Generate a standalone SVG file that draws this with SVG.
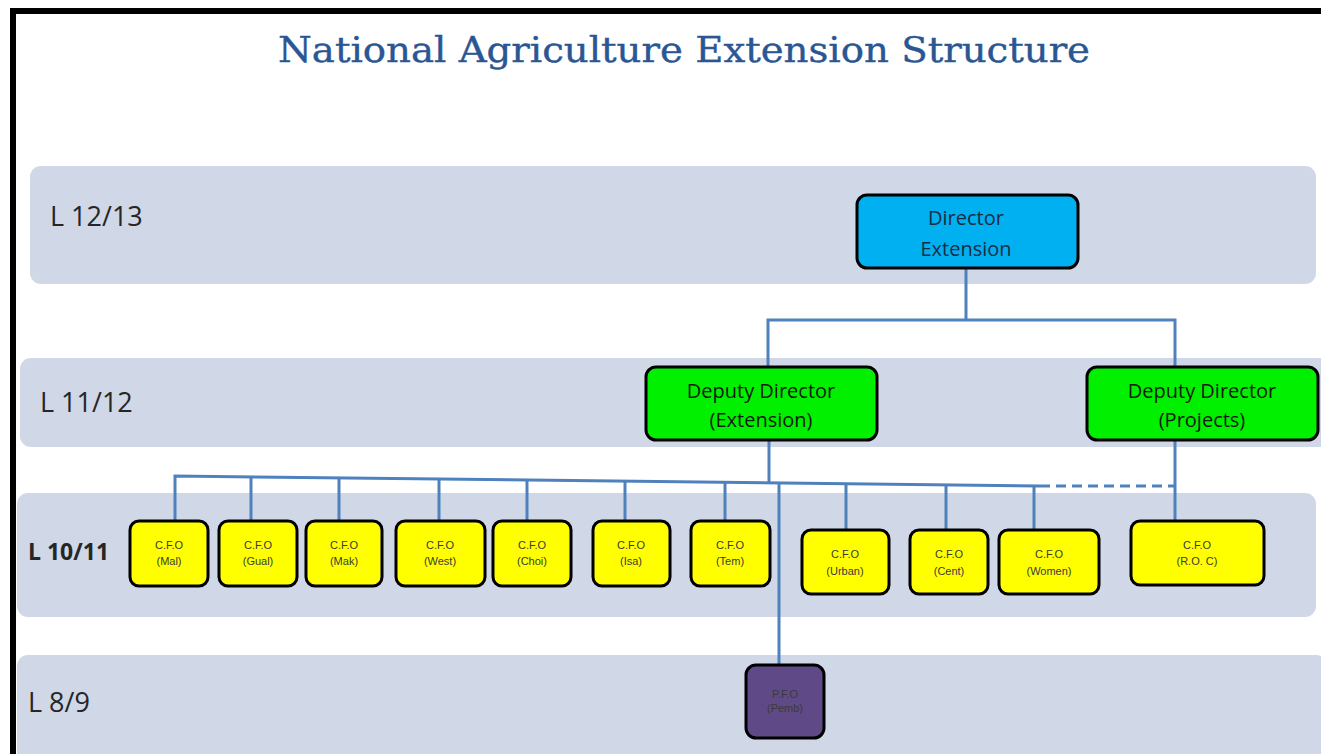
<svg xmlns="http://www.w3.org/2000/svg" width="1321" height="754" viewBox="0 0 1321 754">
  <style>
    .lane { fill: #d0d7e6; }
    .lvl { font-family: "Open Sans", "Liberation Sans", sans-serif; fill: #262626; }
    .box { stroke: #000; stroke-width: 3; }
    .dir { fill: #00b0f0; }
    .dep { fill: #00f000; }
    .cfo { fill: #ffff00; }
    .pfo { fill: #5f4a87; }
    .t-big { font-family: "Open Sans", "Liberation Sans", sans-serif; font-size: 20px; text-anchor: middle; }
    .t-small { font-family: "Liberation Sans", "Open Sans", sans-serif; font-size: 11px; text-anchor: middle; fill: #3a3a3a; }
    .link { fill: none; stroke: #4f81bd; stroke-width: 3; }
  </style>

  <!-- frame -->
  <rect x="0" y="0" width="1321" height="754" fill="#fff"/>
  <line x1="10" y1="11" x2="1321" y2="11" stroke="#000" stroke-width="6"/>
  <line x1="13" y1="8" x2="13" y2="754" stroke="#000" stroke-width="6"/>

  <text x="684" y="62" text-anchor="middle" font-family="DejaVu Serif, Liberation Serif, serif" font-size="36" fill="#2a5694" stroke="#2a5694" stroke-width="0.4" textLength="812" lengthAdjust="spacingAndGlyphs">National Agriculture Extension Structure</text>

  <!-- level bands -->
  <g id="levels">
    <rect class="lane" x="30" y="166" width="1286" height="118" rx="11"/>
    <rect class="lane" x="20" y="358" width="1310" height="89" rx="11"/>
    <rect class="lane" x="17" y="493" width="1299" height="124" rx="11"/>
    <rect class="lane" x="17" y="655" width="1310" height="110" rx="11"/>
    <text class="lvl" x="50" y="226" font-size="27">L 12/13</text>
    <text class="lvl" x="40" y="412" font-size="27">L 11/12</text>
    <text class="lvl" x="28" y="560" font-size="23" font-weight="bold">L 10/11</text>
    <text class="lvl" x="28" y="712" font-size="27">L 8/9</text>
  </g>

  <!-- connectors -->
  <g id="connectors">
    <path class="link" d="M966 268 V320" stroke-width="2"/>
    <path class="link" d="M768 367 V320 H1175 V367"/>
    <path class="link" d="M769 440 V482"/>
    <path class="link" d="M175 521 V476 L1040 486"/>
    <path class="link" d="M1040 486 H1175" stroke-dasharray="10 6"/>
    <path class="link" d="M1175 440 V521"/>
    <path class="link" d="M779 483 V665"/>
    <path class="link" d="M251 477 V521"/>
    <path class="link" d="M339 478 V521"/>
    <path class="link" d="M439 479 V521"/>
    <path class="link" d="M527 480 V521"/>
    <path class="link" d="M625 481 V521"/>
    <path class="link" d="M725 482 V521"/>
    <path class="link" d="M846 484 V530"/>
    <path class="link" d="M946 485 V530"/>
    <path class="link" d="M1034 486 V530"/>
  </g>

  <g id="director">
    <rect class="box dir" x="857" y="195" width="221" height="73" rx="10"/>
    <text class="t-big" x="966" y="225" font-size="23" fill="#1b2d44">Director</text>
    <text class="t-big" x="966" y="256" font-size="23" fill="#1b2d44">Extension</text>
  </g>

  <g id="dd-extension">
    <rect class="box dep" x="646" y="367" width="231" height="73" rx="10"/>
    <text class="t-big" x="761" y="398" fill="#0f1a0f">Deputy Director</text>
    <text class="t-big" x="761" y="427" fill="#0f1a0f">(Extension)</text>
  </g>

  <g id="dd-projects">
    <rect class="box dep" x="1087" y="367" width="231" height="73" rx="10"/>
    <text class="t-big" x="1202" y="398" fill="#0f1a0f">Deputy Director</text>
    <text class="t-big" x="1202" y="427" fill="#0f1a0f">(Projects)</text>
  </g>

  <g id="cfo-mal">
    <rect class="box cfo" x="130" y="521" width="78" height="65" rx="9"/>
    <text class="t-small" x="169" y="549">C.F.O</text>
    <text class="t-small" x="169" y="565">(Mal)</text>
  </g>
  <g id="cfo-gual">
    <rect class="box cfo" x="219" y="521" width="78" height="65" rx="9"/>
    <text class="t-small" x="258" y="549">C.F.O</text>
    <text class="t-small" x="258" y="565">(Gual)</text>
  </g>
  <g id="cfo-mak">
    <rect class="box cfo" x="306" y="521" width="76" height="65" rx="9"/>
    <text class="t-small" x="344" y="549">C.F.O</text>
    <text class="t-small" x="344" y="565">(Mak)</text>
  </g>
  <g id="cfo-west">
    <rect class="box cfo" x="396" y="521" width="89" height="65" rx="9"/>
    <text class="t-small" x="440" y="549">C.F.O</text>
    <text class="t-small" x="440" y="565">(West)</text>
  </g>
  <g id="cfo-choi">
    <rect class="box cfo" x="493" y="521" width="78" height="65" rx="9"/>
    <text class="t-small" x="532" y="549">C.F.O</text>
    <text class="t-small" x="532" y="565">(Choi)</text>
  </g>
  <g id="cfo-isa">
    <rect class="box cfo" x="593" y="521" width="77" height="65" rx="9"/>
    <text class="t-small" x="631" y="549">C.F.O</text>
    <text class="t-small" x="631" y="565">(Isa)</text>
  </g>
  <g id="cfo-tem">
    <rect class="box cfo" x="691" y="521" width="79" height="65" rx="9"/>
    <text class="t-small" x="730" y="549">C.F.O</text>
    <text class="t-small" x="730" y="565">(Tem)</text>
  </g>
  <g id="cfo-urban">
    <rect class="box cfo" x="802" y="530" width="87" height="64" rx="9"/>
    <text class="t-small" x="845" y="558">C.F.O</text>
    <text class="t-small" x="845" y="575">(Urban)</text>
  </g>
  <g id="cfo-cent">
    <rect class="box cfo" x="910" y="530" width="78" height="64" rx="9"/>
    <text class="t-small" x="949" y="558">C.F.O</text>
    <text class="t-small" x="949" y="575">(Cent)</text>
  </g>
  <g id="cfo-women">
    <rect class="box cfo" x="999" y="530" width="100" height="64" rx="9"/>
    <text class="t-small" x="1049" y="558">C.F.O</text>
    <text class="t-small" x="1049" y="575">(Women)</text>
  </g>
  <g id="cfo-roc">
    <rect class="box cfo" x="1131" y="521" width="133" height="64" rx="9"/>
    <text class="t-small" x="1197" y="549">C.F.O</text>
    <text class="t-small" x="1197" y="565">(R.O. C)</text>
  </g>

  <g id="pfo-pemb">
    <rect class="box pfo" x="746" y="665" width="78" height="73" rx="10"/>
    <text class="t-small" x="785" y="698" fill="#2a1c44">P.F.O</text>
    <text class="t-small" x="785" y="712" font-size="7" fill="#2a1c44">(Pemb)</text>
  </g>
</svg>
